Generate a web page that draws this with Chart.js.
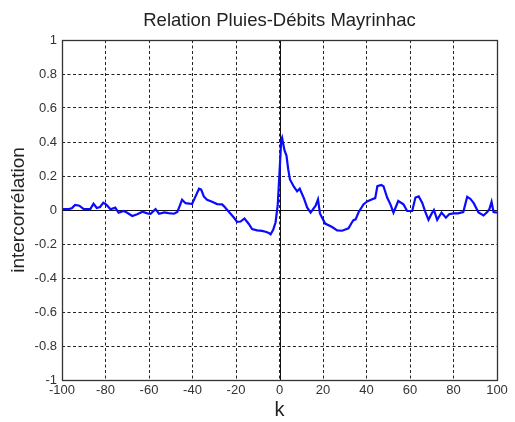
<!DOCTYPE html>
<html>
<head>
<meta charset="utf-8">
<script src="https://cdn.jsdelivr.net/npm/chart.js@4/dist/chart.umd.min.js"></script>
<style>
  html, body { margin: 0; padding: 0; background: #fff; }
  #wrap { width: 515px; height: 422px; }
</style>
</head>
<body>
<div id="wrap"><canvas id="xcorr"></canvas></div>
<script>
// lag k and cross-correlation
const lags = [-100, -97, -95.5, -94, -92, -90, -87, -85.5, -84, -82.5, -81, -79.5, -77.7, -75.5, -74, -71.6, -70, -67.7, -65.4, -63, -60.8, -59.3, -57, -55.4, -53, -51, -48.5, -47, -46, -44.8, -43.2, -41.5, -40.2, -38.6, -37, -36, -34.8, -33.3, -31, -28.7, -26.4, -25.6, -23.3, -21, -19.5, -17.9, -16.1, -14.1, -12.6, -10.3, -8, -6.4, -4.9, -4.1, -2.9, -1.8, -0.8, 0, 0.8, 1.2, 2.3, 3.2, 4, 4.8, 6.6, 8.1, 9.3, 11.2, 12.7, 14.3, 16.6, 17.7, 18.6, 19.6, 21, 24.2, 26.5, 28.8, 31.7, 33.2, 34, 35, 36.3, 38.6, 40.3, 42.6, 44, 45, 46.8, 47.8, 49.5, 51, 52.4, 54.6, 57, 58.7, 61, 62.5, 64, 65.6, 67, 68.5, 70, 71, 72.5, 74.5, 76.5, 78, 80, 82, 84.5, 86.3, 87.8, 89.3, 91.5, 93.8, 95.5, 96.5, 97.5, 98.4, 100];
const corr = [0.005, 0.005, 0.01, 0.03, 0.025, 0.005, 0.005, 0.037, 0.012, 0.018, 0.043, 0.03, 0.004, 0.014, -0.016, -0.006, -0.016, -0.035, -0.025, -0.01, -0.02, -0.022, 0.005, -0.022, -0.014, -0.018, -0.022, -0.012, 0.02, 0.06, 0.04, 0.038, 0.035, 0.08, 0.125, 0.12, 0.08, 0.06, 0.048, 0.035, 0.033, 0.023, -0.01, -0.044, -0.07, -0.068, -0.05, -0.082, -0.112, -0.12, -0.123, -0.128, -0.135, -0.143, -0.116, -0.072, 0.032, 0.22, 0.41, 0.425, 0.35, 0.32, 0.24, 0.18, 0.137, 0.11, 0.125, 0.07, 0.015, -0.015, 0.025, 0.062, -0.02, -0.045, -0.08, -0.1, -0.12, -0.122, -0.108, -0.075, -0.06, -0.055, -0.015, 0.033, 0.05, 0.063, 0.07, 0.14, 0.147, 0.14, 0.073, 0.033, -0.016, 0.053, 0.033, -0.006, -0.006, 0.073, 0.08, 0.043, -0.01, -0.058, -0.02, 0, -0.058, -0.015, -0.045, -0.025, -0.02, -0.02, -0.012, 0.078, 0.065, 0.04, -0.015, -0.032, -0.012, 0.005, 0.048, -0.012, -0.015];

const xTicks = [-100, -80, -60, -40, -20, 0, 20, 40, 60, 80, 100];
const yTicks = [-1, -0.8, -0.6, -0.4, -0.2, 0, 0.2, 0.4, 0.6, 0.8, 1];

const FONT = "'Liberation Sans', Arial, sans-serif";

// box round the plot + solid lines on x=0 and y=0, title centred over the plot
const frame = {
    id: "frame",
    afterLayout(chart) {
        if (chart.titleBlock) {
            chart.titleBlock.left = chart.chartArea.left;
            chart.titleBlock.right = chart.chartArea.right;
        }
    },
    beforeDatasetsDraw(chart) {
        const { ctx, chartArea: a, scales } = chart;
        const x0 = scales.x.getPixelForValue(0);
        const y0 = scales.y.getPixelForValue(0);
        ctx.save();
        ctx.strokeStyle = "#111";
        ctx.lineWidth = 1;
        ctx.beginPath();
        ctx.moveTo(Math.round(x0) + 0.5, a.top);
        ctx.lineTo(Math.round(x0) + 0.5, a.bottom);
        ctx.moveTo(a.left, Math.round(y0) + 0.5);
        ctx.lineTo(a.right, Math.round(y0) + 0.5);
        ctx.stroke();
        ctx.restore();
    },
    afterDraw(chart) {
        const { ctx, chartArea: a } = chart;
        ctx.save();
        ctx.strokeStyle = "#333";
        ctx.lineWidth = 1.3;
        ctx.strokeRect(Math.round(a.left) + 0.5, Math.round(a.top) + 0.5,
            Math.round(a.right - a.left), Math.round(a.bottom - a.top));
        ctx.restore();
    }
};

new Chart(document.getElementById("xcorr"), {
    type: "line",
    data: {
        datasets: [{
            data: lags.map((k, i) => ({ x: k, y: corr[i] })),
            borderColor: "#0a0aff",
            borderWidth: 2.2,
            pointRadius: 0,
            tension: 0,
            fill: false
        }]
    },
    options: {
        responsive: true,
        maintainAspectRatio: false,
        animation: false,
        layout: { padding: { left: 0, right: 18, top: 0, bottom: 0 } },
        plugins: {
            legend: { display: false },
            tooltip: { enabled: false },
            title: {
                display: true,
                text: "Relation Pluies-Débits Mayrinhac",
                color: "#222",
                font: { family: FONT, size: 18.5, weight: "normal" },
                padding: { top: 10, bottom: 7.8 }
            }
        },
        scales: {
            x: {
                type: "linear",
                min: -100,
                max: 100,
                afterBuildTicks: s => { s.ticks = xTicks.map(v => ({ value: v })); },
                afterFit: s => { s.height = 42; },
                ticks: {
                    color: "#333",
                    font: { family: FONT, size: 13 },
                    padding: 3,
                    maxRotation: 0,
                    autoSkip: false,
                    callback: v => String(v)
                },
                grid: { color: "#222", lineWidth: 1, drawTicks: false },
                border: { display: false, dash: [3, 2.5] },
                title: {
                    display: true,
                    text: "k",
                    color: "#222",
                    font: { family: FONT, size: 20 },
                    padding: { top: 0, bottom: 0 }
                }
            },
            y: {
                min: -1,
                max: 1,
                afterBuildTicks: s => { s.ticks = yTicks.map(v => ({ value: v })); },
                afterFit: s => { s.width = 62; },
                ticks: {
                    color: "#333",
                    font: { family: FONT, size: 13 },
                    padding: 5,
                    autoSkip: false,
                    callback: v => String(Math.round(v * 10) / 10)
                },
                grid: { color: "#222", lineWidth: 1, drawTicks: false },
                border: { display: false, dash: [3, 2.5] },
                title: {
                    display: true,
                    text: "intercorrélation",
                    color: "#222",
                    font: { family: FONT, size: 19 },
                    padding: { top: 7, bottom: 0 }
                }
            }
        }
    },
    plugins: [frame]
});
</script>
</body>
</html>
